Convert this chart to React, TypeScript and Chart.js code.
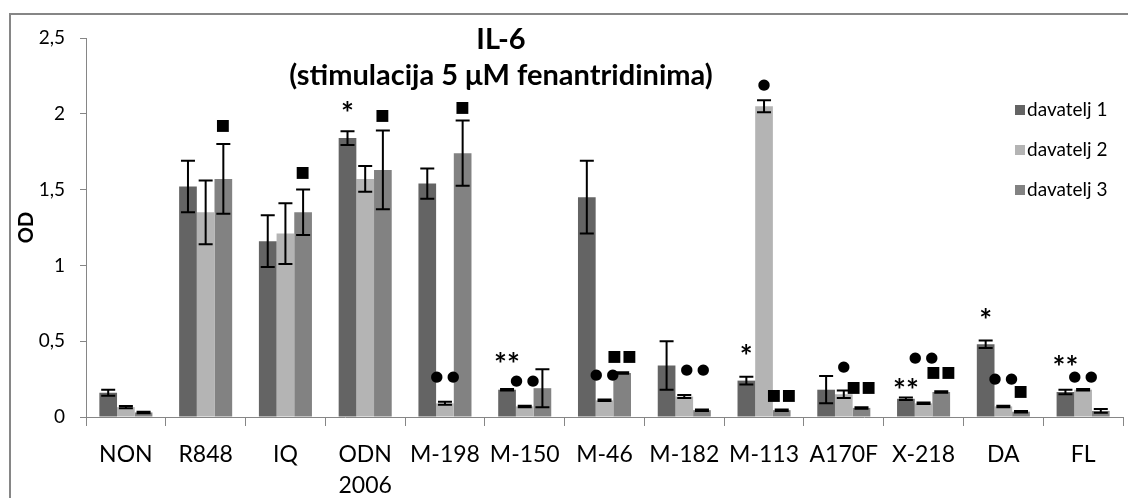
import React, { useEffect, useRef } from 'react';
import { Chart, registerables } from 'chart.js';

Chart.register(...registerables);

const categories: (string | string[])[] = ['NON', 'R848', 'IQ', ['ODN', '2006'], 'M-198', 'M-150', 'M-46', 'M-182', 'M-113', 'A170F', 'X-218', 'DA', 'FL'];
const seriesNames = ['davatelj 1', 'davatelj 2', 'davatelj 3'];
const donor1 = [0.16, 1.52, 1.16, 1.84, 1.54, 0.18, 1.45, 0.34, 0.24, 0.18, 0.12, 0.48, 0.165];
const donor2 = [0.065, 1.35, 1.21, 1.57, 0.09, 0.07, 0.11, 0.135, 2.05, 0.15, 0.09, 0.07, 0.18];
const donor3 = [0.03, 1.57, 1.35, 1.63, 1.74, 0.19, 0.29, 0.045, 0.045, 0.06, 0.165, 0.035, 0.04];
const err1 = [0.02, 0.17, 0.17, 0.045, 0.1, 0.005, 0.24, 0.16, 0.025, 0.09, 0.008, 0.025, 0.015];
const err2 = [0.008, 0.21, 0.2, 0.085, 0.01, 0.005, 0.005, 0.01, 0.04, 0.025, 0.005, 0.005, 0.005];
const err3 = [0.005, 0.23, 0.15, 0.26, 0.215, 0.125, 0.005, 0.005, 0.005, 0.005, 0.005, 0.005, 0.012];
const seriesColors = ['#646464', '#b4b4b4', '#828282'];
const yTicks = [0, 0.5, 1, 1.5, 2, 2.5];
const titleLines = ['IL-6', '(stimulacija 5 μM fenantridinima)'];

// significance marks: category index, bar (series) position, symbols, OD level of the mark
const markCat = [1, 2, 3, 3, 4, 4, 5, 5, 6, 6, 7, 8, 8, 8, 9, 9, 10, 10, 10, 11, 11, 11, 12, 12];
const markBar = [2, 2, 0, 2, 2, 1, 0, 1, 1, 2, 1.6, 0, 1, 2, 1, 2, 0, 1, 2, 0, 1, 2, 0, 1];
const markText = ['■', '■', '*', '■', '■', '●●', '**', '●●', '●●', '■■', '●●', '*', '●', '■■', '●', '■■', '**', '●●', '■■', '*', '●●', '■', '**', '●●'];
const markLevel = [1.92, 1.61, 2.05, 1.99, 2.04, 0.265, 0.39, 0.24, 0.28, 0.4, 0.31, 0.447, 2.19, 0.145, 0.327, 0.195, 0.222, 0.386, 0.291, 0.686, 0.248, 0.166, 0.375, 0.265];

const FONT = 'Lato, "Open Sans", sans-serif';
const AXIS_GRAY = '#868686';

const values = [donor1, donor2, donor3];
const errors = [err1, err2, err3];

const glyphSpec: Record<string, { size: number; step: number; font: string }> = {
  '■': { size: 12, step: 15, font: '"DejaVu Sans"' },
  '●': { size: 11.5, step: 16.5, font: '"DejaVu Sans"' },
  '*': { size: 10, step: 13, font: 'Lato' },
};

const framePlugin = {
  id: 'frame',
  beforeDraw(chart: any) {
    const ctx = chart.ctx;
    ctx.save();
    ctx.fillStyle = '#ffffff';
    ctx.fillRect(0, 0, chart.width, chart.height);
    ctx.strokeStyle = AXIS_GRAY;
    ctx.lineWidth = 2;
    ctx.strokeRect(10, 14, chart.width + 50, chart.height + 50);
    ctx.restore();
  },
};

const errorBarPlugin = {
  id: 'errorBars',
  afterDatasetsDraw(chart: any) {
    const ctx = chart.ctx;
    const y = chart.scales.y;
    ctx.save();
    ctx.strokeStyle = '#000';
    ctx.lineWidth = 2;
    values.forEach((vals, i) => {
      const meta = chart.getDatasetMeta(i);
      vals.forEach((v, j) => {
        const bar = meta.data[j];
        if (!bar) return;
        const e = errors[i][j];
        const yt = y.getPixelForValue(v + e);
        const yb = y.getPixelForValue(v - e);
        const x = bar.x;
        const cap = 7;
        ctx.beginPath();
        ctx.moveTo(x, yt);
        ctx.lineTo(x, yb);
        ctx.moveTo(x - cap, yt);
        ctx.lineTo(x + cap, yt);
        ctx.moveTo(x - cap, yb);
        ctx.lineTo(x + cap, yb);
        ctx.stroke();
      });
    });
    ctx.restore();
  },
};

const markPlugin = {
  id: 'marks',
  afterDatasetsDraw(chart: any) {
    const ctx = chart.ctx;
    const y = chart.scales.y;
    ctx.save();
    ctx.fillStyle = '#000';
    markCat.forEach((c, k) => {
      const m0 = chart.getDatasetMeta(0).data[c];
      const m1 = chart.getDatasetMeta(1).data[c];
      const step = m1.x - m0.x;
      const cx = m1.x + (markBar[k] - 1) * step;
      const cy = y.getPixelForValue(markLevel[k]);
      const chars = Array.from(markText[k]);
      const spec = glyphSpec[chars[0]];
      ctx.font = `bold 100px ${spec.font}`;
      const m = ctx.measureText(chars[0]);
      const w100 = m.actualBoundingBoxRight + m.actualBoundingBoxLeft;
      const fs = (100 * spec.size) / w100;
      ctx.font = `bold ${fs}px ${spec.font}`;
      ctx.textAlign = 'left';
      ctx.textBaseline = 'alphabetic';
      const mm = ctx.measureText(chars[0]);
      const total = (chars.length - 1) * spec.step;
      chars.forEach((ch, n) => {
        const gx = cx - total / 2 + n * spec.step;
        const left = gx - (mm.actualBoundingBoxRight - mm.actualBoundingBoxLeft) / 2;
        const base = cy + (mm.actualBoundingBoxAscent - mm.actualBoundingBoxDescent) / 2;
        ctx.fillText(ch, left, base);
      });
    });
    ctx.restore();
  },
};

const titlePlugin = {
  id: 'customTitle',
  afterDraw(chart: any) {
    const ctx = chart.ctx;
    ctx.save();
    ctx.fillStyle = '#000';
    ctx.font = `bold 29px ${FONT}`;
    ctx.textAlign = 'center';
    ctx.textBaseline = 'alphabetic';
    ctx.fillText(titleLines[0], 501, 49);
    ctx.fillText(titleLines[1], 501, 85);
    ctx.restore();
  },
};

const legendPlugin = {
  id: 'customLegend',
  afterDraw(chart: any) {
    const ctx = chart.ctx;
    ctx.save();
    ctx.font = `19px ${FONT}`;
    ctx.textAlign = 'left';
    ctx.textBaseline = 'middle';
    seriesNames.forEach((name, i) => {
      const yc = 110 + i * 40;
      ctx.fillStyle = seriesColors[i];
      ctx.fillRect(1015, yc - 5, 10, 10);
      ctx.fillStyle = '#000';
      ctx.fillText(name, 1027, yc);
    });
    ctx.restore();
  },
};

export default function App() {
  const ref = useRef<HTMLCanvasElement>(null);
  useEffect(() => {
    if (!ref.current) return;
    const chart = new Chart(ref.current, {
      type: 'bar',
      data: {
        labels: categories as any,
        datasets: values.map((vals, i) => ({
          label: seriesNames[i],
          data: vals,
          backgroundColor: seriesColors[i],
          borderWidth: 0,
          categoryPercentage: 0.665,
          barPercentage: 1,
        })),
      },
      options: {
        animation: false,
        responsive: false,
        maintainAspectRatio: false,
        devicePixelRatio: 1,
        layout: { padding: { left: 0, right: 5, top: 38, bottom: 0 } },
        plugins: {
          legend: { display: false },
          title: { display: false },
          tooltip: { enabled: false },
        },
        scales: {
          x: {
            grid: { display: true, drawOnChartArea: false, drawTicks: true, tickLength: 9, color: AXIS_GRAY, lineWidth: 1, offset: true },
            border: { display: true, color: AXIS_GRAY, width: 1 },
            ticks: { color: '#000', font: { family: FONT, size: 23, lineHeight: 1.35 }, padding: 13, maxRotation: 0, minRotation: 0, autoSkip: false },
            afterFit: (s: any) => { s.height = 81; },
          },
          y: {
            min: 0,
            max: 2.5,
            afterBuildTicks: (s: any) => { s.ticks = yTicks.map((v) => ({ value: v })); },
            ticks: { color: '#000', font: { family: FONT, size: 19 }, padding: 15, callback: (v: any) => String(v).replace('.', ',') },
            grid: { display: true, drawOnChartArea: false, drawTicks: true, tickLength: 6, color: AXIS_GRAY },
            border: { display: true, color: AXIS_GRAY, width: 1 },
            title: { display: true, text: 'OD', color: '#000', font: { family: FONT, size: 20, weight: 'bold' }, padding: { top: 15, bottom: 0 } },
            afterFit: (s: any) => { s.width = 86; },
          },
        },
      },
      plugins: [framePlugin, errorBarPlugin, markPlugin, titlePlugin, legendPlugin],
    });
    return () => chart.destroy();
  }, []);
  return (
    <div style={{ position: 'absolute', left: 0, top: 0, width: 1128, height: 498, background: '#fff', overflow: 'hidden' }}>
      <canvas ref={ref} width={1128} height={498} style={{ display: 'block', width: 1128, height: 498 }} />
    </div>
  );
}
